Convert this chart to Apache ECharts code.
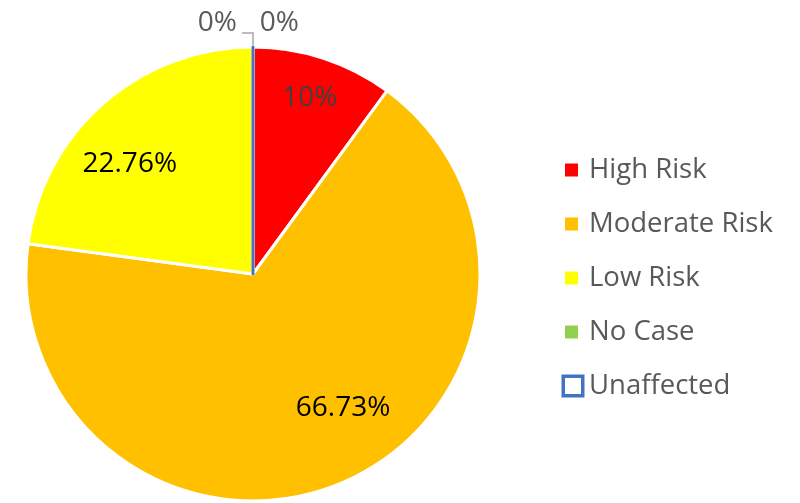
<!DOCTYPE html>
<html>
<head>
<meta charset="utf-8">
<script src="https://cdn.jsdelivr.net/npm/echarts@6/dist/echarts.min.js"></script>
<style>
  html, body { margin: 0; padding: 0; background: #fff; }
  #chart { width: 800px; height: 503px; }
</style>
</head>
<body>
<div id="chart"></div>
<script>
// categories and values (percent)
var names = ['High Risk', 'Moderate Risk', 'Low Risk', 'No Case', 'Unaffected'];
var values = [10, 66.73, 22.76, 0, 0];
var colors = ['#FF0000', '#FFC000', '#FFFF00', '#92D050', '#FFFFFF'];
var labelColors = ['#404040', '#000000', '#000000', '#595959', '#595959'];

var FONT = 'Open Sans';
var BLUE = '#4472C4';

// excel "best fit" puts the inside labels a little away from the slice middle
var labelNudge = {
  'High Risk': [3, -11],
  'Moderate Risk': [22, -26],
  'Low Risk': [-9, 21],
  'No Case': [0, -10],
  'Unaffected': [62, -10]
};

// main pie: the slices, labels only for the zero slices (outside, at the top)
var mainData = names.map(function (n, i) {
  var item = {
    name: n,
    value: values[i],
    itemStyle: { color: colors[i] },
    label: { show: values[i] === 0, offset: labelNudge[n] }
  };
  if (n === 'Unaffected') {
    item.itemStyle = { color: '#FFFFFF', borderColor: BLUE, borderWidth: 3 };
    // second 0% label sits right of the first one, no leader line
    item.labelLine = { show: false };
  }
  return item;
});

// transparent overlay pie that carries the inside labels
var labelData = names.map(function (n, i) {
  return {
    name: n,
    value: values[i],
    label: { show: values[i] > 0, color: labelColors[i], offset: labelNudge[n] }
  };
});

// legend icons drawn as rich text boxes so the Unaffected one can be larger
var rich = {
  t: { fontFamily: FONT, fontSize: 27.5, color: '#595959', lineHeight: 30, padding: [0, 0, 0, 11] },
  tu: { fontFamily: FONT, fontSize: 27.5, color: '#595959', lineHeight: 30, padding: [0, 0, 0, 8] }
};
names.forEach(function (n, i) {
  if (n === 'Unaffected') {
    rich['i' + i] = { width: 16, height: 16, backgroundColor: '#FFFFFF', borderColor: BLUE, borderWidth: 3.5 };
  } else {
    rich['i' + i] = { width: 13, height: 13, backgroundColor: colors[i] };
  }
});

var chart = echarts.init(document.getElementById('chart'));
chart.setOption({
  animation: false,
  legend: {
    orient: 'vertical',
    left: 553,
    top: 150,
    itemWidth: 1,
    itemHeight: 1,
    itemGap: 24,
    itemStyle: { opacity: 0 },
    data: names,
    formatter: function (n) {
      var i = names.indexOf(n);
      return '{i' + i + '|}{' + (n === 'Unaffected' ? 'tu' : 't') + '|' + n + '}';
    },
    textStyle: { rich: rich, lineHeight: 30 }
  },
  series: [
    {
      type: 'pie',
      center: [253, 274],
      radius: 227,
      startAngle: 90,
      clockwise: true,
      avoidLabelOverlap: false,
      itemStyle: { borderColor: '#FFFFFF', borderWidth: 3 },
      label: {
        show: true,
        position: 'outside',
        formatter: function (p) { return p.value + '%'; },
        fontFamily: FONT,
        fontSize: 28,
        color: '#595959'
      },
      labelLine: {
        show: true,
        length: 14,
        length2: 11,
        lineStyle: { color: '#A6A6A6', width: 1.5 }
      },
      data: mainData
    },
    {
      type: 'pie',
      silent: true,
      center: [253, 274],
      radius: [114, 227],
      startAngle: 90,
      clockwise: true,
      itemStyle: { color: 'rgba(0,0,0,0)' },
      label: {
        show: true,
        position: 'inside',
        formatter: function (p) { return p.value + '%'; },
        fontFamily: FONT,
        fontSize: 28
      },
      labelLine: { show: false },
      data: labelData
    }
  ]
});
</script>
</body>
</html>
